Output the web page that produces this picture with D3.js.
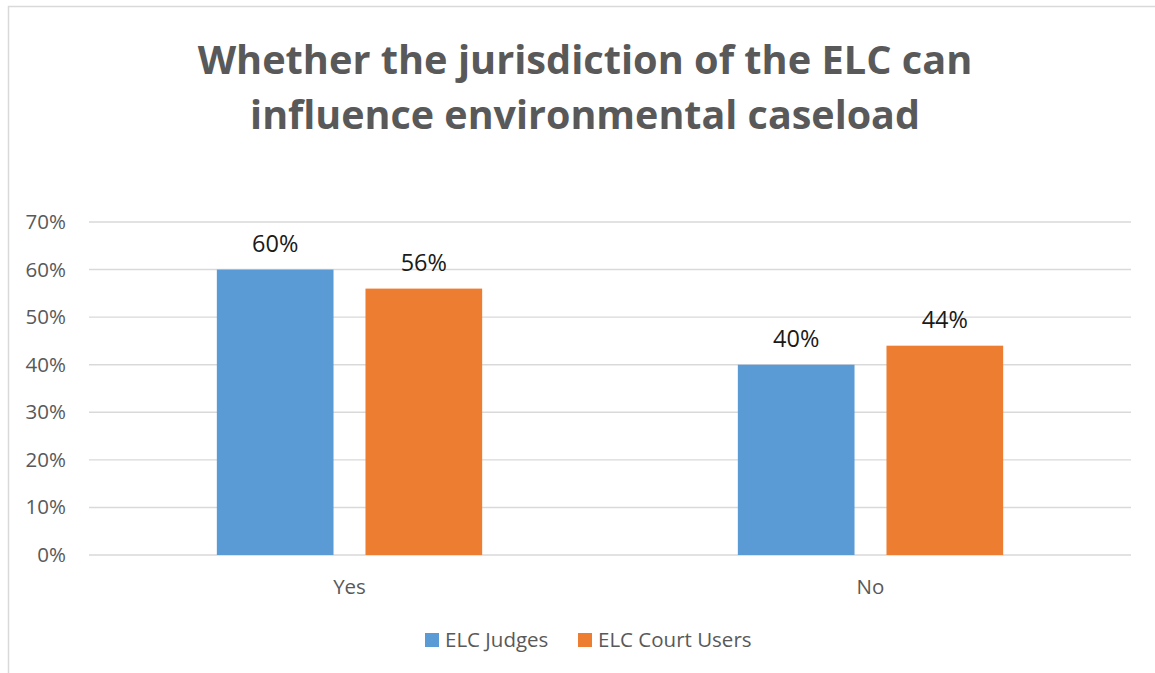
<!DOCTYPE html>
<html>
<head>
<meta charset="utf-8">
<script src="https://cdn.jsdelivr.net/npm/d3@7"></script>
<style>
  html, body { margin: 0; padding: 0; background: #fff; }
  svg { display: block; }
  text { font-family: "Open Sans", "Noto Sans", sans-serif; }
</style>
</head>
<body>
<svg id="chart" width="1155" height="673"></svg>
<script>
// Survey responses: share answering Yes / No
const categories = ["Yes", "No"];
const seriesNames = ["ELC Judges", "ELC Court Users"];
const judgesValues = [0.60, 0.40];
const courtUserValues = [0.56, 0.44];
const yTickValues = [0, 0.1, 0.2, 0.3, 0.4, 0.5, 0.6, 0.7];
const titleLines = ["Whether the jurisdiction of the ELC can", "influence environmental caseload"];

const colors = { "ELC Judges": "#5B9BD5", "ELC Court Users": "#ED7D31" };
const textGray = "#595959";
const gridGray = "#d9d9d9";

const rows = categories.map((c, i) => ({
  category: c,
  values: [
    { series: seriesNames[0], value: judgesValues[i] },
    { series: seriesNames[1], value: courtUserValues[i] }
  ]
}));

const svg = d3.select("#chart");

// outer chart frame
svg.append("rect")
  .attr("x", 8.5).attr("y", 6.5)
  .attr("width", 1200).attr("height", 700)
  .attr("fill", "none")
  .attr("stroke", gridGray)
  .attr("stroke-width", 1.5);

// title, each line sized to its measured width
const titleWidths = [775, 670];
const titleBaselines = [74, 129];
titleLines.forEach((line, i) => {
  const t = svg.append("text")
    .attr("x", 585).attr("y", titleBaselines[i])
    .attr("text-anchor", "middle")
    .attr("fill", textGray)
    .attr("font-weight", 700)
    .attr("font-size", 44)
    .text(line);
  const w = t.node().getComputedTextLength();
  t.attr("font-size", 44 * titleWidths[i] / w);
});

const plot = { left: 89, right: 1131, top: 222, bottom: 555 };

const x0 = d3.scaleBand()
  .domain(categories)
  .range([plot.left, plot.right])
  .paddingInner(0).paddingOuter(0);

const x1 = d3.scaleBand()
  .domain(seriesNames)
  .range([0, x0.bandwidth()])
  .paddingInner(0.215)
  .paddingOuter(0.86);

const y = d3.scaleLinear()
  .domain([0, 0.7])
  .range([plot.bottom, plot.top]);

// horizontal gridlines
svg.append("g")
  .selectAll("line")
  .data(yTickValues)
  .join("line")
  .attr("x1", plot.left).attr("x2", plot.right)
  .attr("y1", d => y(d)).attr("y2", d => y(d))
  .attr("stroke", gridGray)
  .attr("stroke-width", 1.4);

// y axis labels
const yAxis = d3.axisLeft(y)
  .tickValues(yTickValues)
  .tickFormat(d3.format(".0%"))
  .tickSize(0)
  .tickPadding(0);
const gy = svg.append("g")
  .attr("transform", `translate(66,0)`)
  .call(yAxis);
gy.select(".domain").remove();
gy.selectAll("text")
  .attr("fill", textGray)
  .attr("font-size", 20.5)
  .attr("font-family", "'Open Sans', sans-serif");

// x axis labels
const xAxis = d3.axisBottom(x0).tickSize(0).tickPadding(0);
const gx = svg.append("g")
  .attr("transform", `translate(0,${plot.bottom})`)
  .call(xAxis);
gx.select(".domain").remove();
gx.selectAll("text")
  .attr("dy", null)
  .attr("y", 39)
  .attr("fill", textGray)
  .attr("font-size", 20.5)
  .attr("font-family", "'Open Sans', sans-serif");

// bars
const groups = svg.append("g")
  .selectAll("g")
  .data(rows)
  .join("g")
  .attr("transform", d => `translate(${x0(d.category)},0)`);

groups.selectAll("rect")
  .data(d => d.values)
  .join("rect")
  .attr("x", d => x1(d.series))
  .attr("width", x1.bandwidth())
  .attr("y", d => y(d.value))
  .attr("height", d => y(0) - y(d.value))
  .attr("fill", d => colors[d.series]);

// value labels
groups.selectAll("text.value")
  .data(d => d.values)
  .join("text")
  .attr("class", "value")
  .attr("x", d => x1(d.series) + x1.bandwidth() / 2)
  .attr("y", d => y(d.value) - 18)
  .attr("text-anchor", "middle")
  .attr("fill", "#1a1a1a")
  .attr("font-size", 23.5)
  .text(d => d3.format(".0%")(d.value));

// legend
const legendItems = [
  { name: seriesNames[0], x: 425 },
  { name: seriesNames[1], x: 578 }
];
const lg = svg.append("g");
legendItems.forEach(item => {
  lg.append("rect")
    .attr("x", item.x).attr("y", 633)
    .attr("width", 14).attr("height", 14)
    .attr("fill", colors[item.name]);
  lg.append("text")
    .attr("x", item.x + 20).attr("y", 647)
    .attr("fill", textGray)
    .attr("font-size", 20.5)
    .text(item.name);
});
</script>
</body>
</html>
